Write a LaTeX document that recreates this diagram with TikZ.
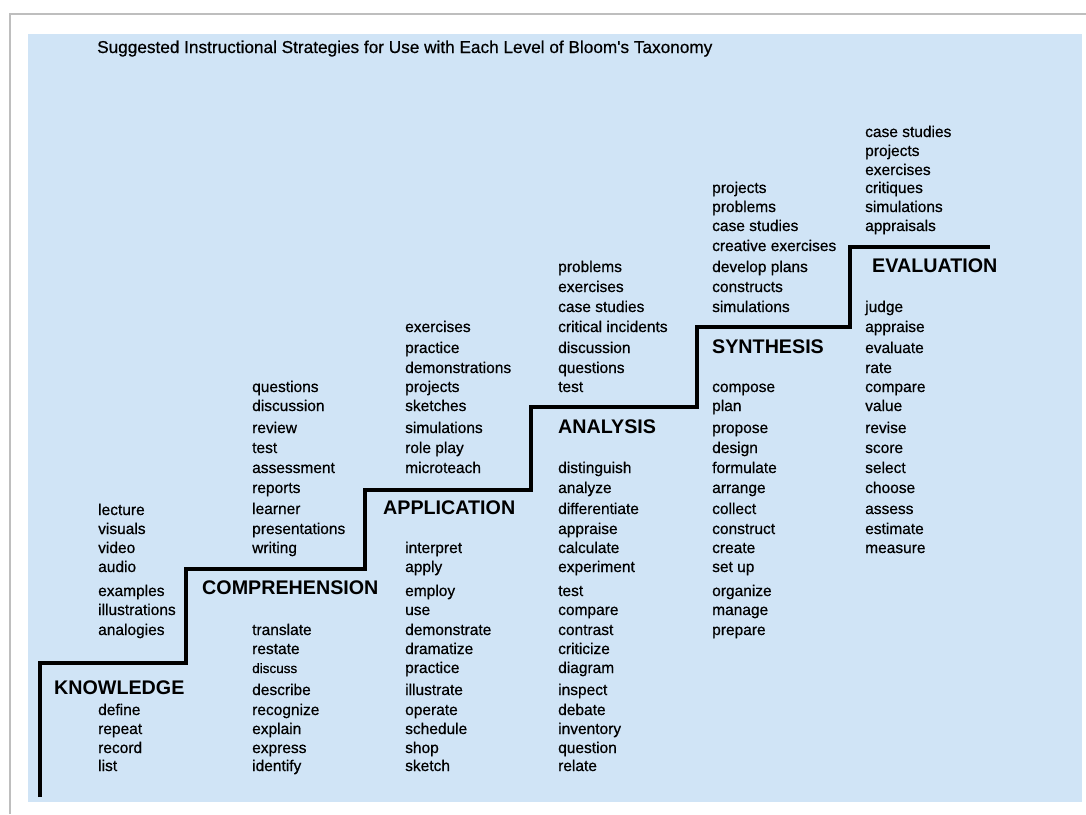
\documentclass[tikz,border=0pt]{standalone}
\usepackage{fontspec}
\setmainfont{Liberation Sans}
\newfontfamily\wordfont{Liberation Sans}[FakeBold=0.6]
\usepackage{tikz}

\definecolor{paleblue}{RGB}{208,228,246}
\definecolor{framegray}{RGB}{190,190,190}
\tikzset{
  level/.style={font=\fontsize{19.7}{23}\selectfont\bfseries, anchor=west, inner sep=0pt},
  word/.style={font=\wordfont\fontsize{15.5}{19}\selectfont, anchor=base west, inner sep=0pt, yshift=-5pt},
}

\begin{document}
\begin{tikzpicture}[x=1pt, y=-1pt]
  \useasboundingbox (0,0) rectangle (1086,814);
  \fill[white] (0,0) rectangle (1086,814);
  \draw[framegray, line width=1.5pt] (10,814) -- (10,14) -- (1086,14);
  \fill[paleblue] (28,34) rectangle (1082,802);
  \node[font=\wordfont\fontsize{17.2}{20}\selectfont, anchor=base west, inner sep=0pt] (title) at (97,53)
    {Suggested Instructional Strategies for Use with Each Level of Bloom's Taxonomy};
  % the steps
  \draw[line width=4pt] (40,797) -- (40,663) -- (186,663) -- (186,569) -- (365,569) -- (365,490)
    -- (531,490) -- (531,407) -- (697,407) -- (697,327) -- (850,327) -- (850,247) -- (990,247);
  \node[level] (know) at (54,688) {KNOWLEDGE};
  \node[level] (comp) at (202,588) {COMPREHENSION};
  \node[level] (appl) at (383,508) {APPLICATION};
  \node[level] (anal) at (558,427) {ANALYSIS};
  \node[level] (synt) at (712,347) {SYNTHESIS};
  \node[level] (eval) at (872,266) {EVALUATION};
  % strategies above, verbs below
  \foreach \w/\y [count=\i] in {lecture/510, visuals/529, video/548, audio/567, examples/591,
      illustrations/610, analogies/630, define/710, repeat/729, record/748, list/766}
    \node[word] (know\i) at (98,\y) {\w};
  \foreach \w/\y [count=\i] in {questions/387, discussion/406, review/428, test/448, assessment/468,
      reports/488, learner/509, presentations/529, writing/548, translate/630, restate/649,
      {\fontsize{13.5}{16}\selectfont discuss}/668, describe/690, recognize/710, explain/729,
      express/748, identify/766}
    \node[word] (comp\i) at (252,\y) {\w};
  \foreach \w/\y [count=\i] in {exercises/327, practice/348, demonstrations/368, projects/387,
      sketches/406, simulations/428, role play/448, microteach/468, interpret/548, apply/567,
      employ/591, use/610, demonstrate/630, dramatize/649, practice/668, illustrate/690,
      operate/710, schedule/729, shop/748, sketch/766}
    \node[word] (appl\i) at (405,\y) {\w};
  \foreach \w/\y [count=\i] in {problems/267, exercises/287, case studies/307, critical incidents/327,
      discussion/348, questions/368, test/387, distinguish/468, analyze/488, differentiate/509,
      appraise/529, calculate/548, experiment/567, test/591, compare/610, contrast/630,
      criticize/649, diagram/668, inspect/690, debate/710, inventory/729, question/748, relate/766}
    \node[word] (anal\i) at (558,\y) {\w};
  \foreach \w/\y [count=\i] in {projects/188, problems/207, case studies/226, creative exercises/246,
      develop plans/267, constructs/287, simulations/307, compose/387, plan/406, propose/428,
      design/448, formulate/468, arrange/488, collect/509, construct/529, create/548, set up/567,
      organize/591, manage/610, prepare/630}
    \node[word] (synt\i) at (712,\y) {\w};
  \foreach \w/\y [count=\i] in {case studies/132, projects/151, exercises/170, critiques/188,
      simulations/207, appraisals/226, judge/307, appraise/327, evaluate/348, rate/368, compare/387,
      value/406, revise/428, score/448, select/468, choose/488, assess/509, estimate/529, measure/548}
    \node[word] (eval\i) at (865,\y) {\w};
\end{tikzpicture}
\end{document}
